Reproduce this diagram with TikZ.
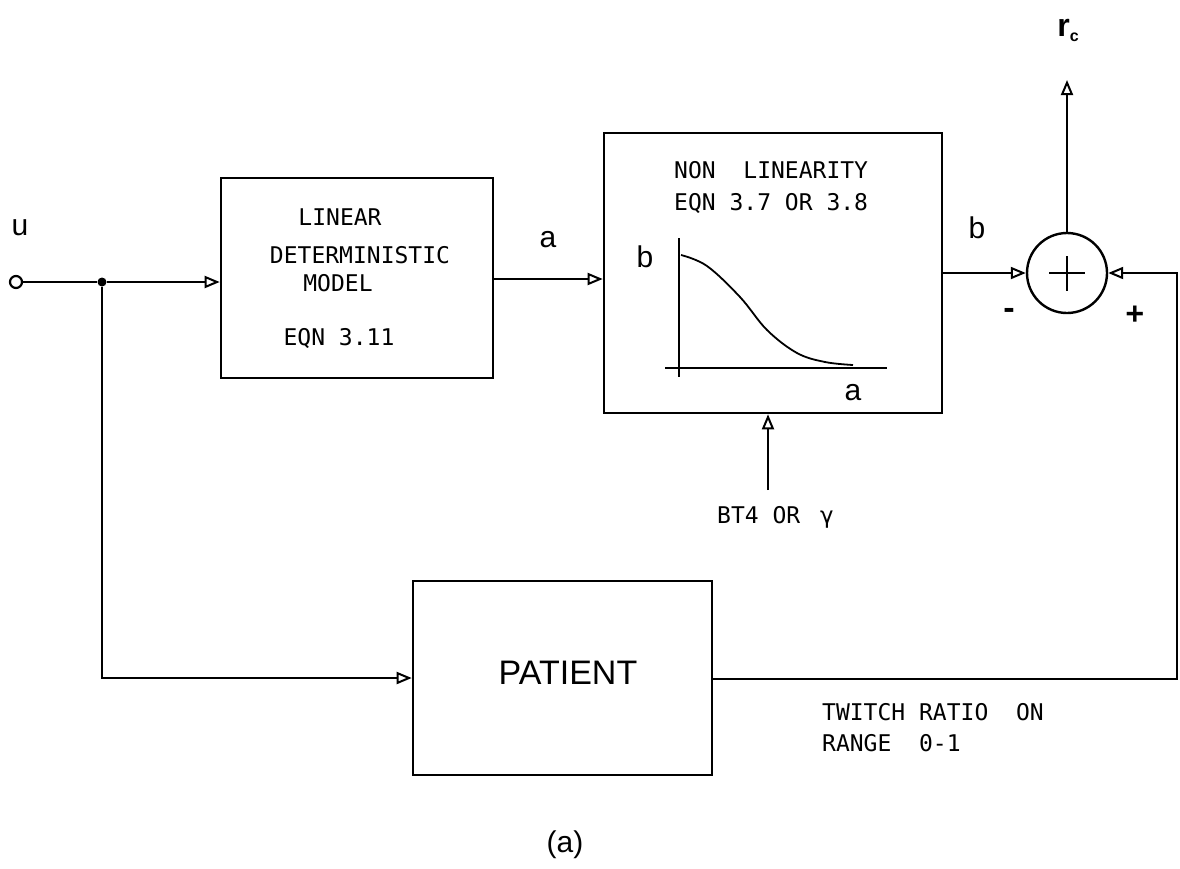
\documentclass[tikz,border=0pt]{standalone}
\usepackage{fontspec}
\usetikzlibrary{arrows.meta}
\newfontfamily\plotfont{DejaVu Sans Mono}
\newfontfamily\lblfont{Liberation Sans}
\tikzset{
  wire/.style={line width=2.6pt},
  blk/.style={draw, line width=2.6pt, inner sep=0pt},
  arr/.style={-{Triangle[open, length=15pt, width=12pt, line width=2pt]}},
  plot text/.style={inner sep=0pt, font=\plotfont\fontsize{23}{27}\selectfont},
  sig/.style={inner sep=0pt, font=\lblfont\fontsize{30}{34}\selectfont},
}
\begin{document}
\begin{tikzpicture}[x=1pt, y=-1pt]
\useasboundingbox (0,0) rectangle (1180,868);

% blocks
\node[blk, minimum width=272pt, minimum height=200pt] (ldm) at (357,278) {};
\node[blk, minimum width=338pt, minimum height=280pt] (nl) at (773,273) {};
\node[blk, minimum width=299pt, minimum height=194pt] (pat) at (562.5,678) {};
\node[draw, circle, line width=2.4pt, minimum size=80pt, inner sep=0pt] (sum) at (1067,273) {};
\draw[wire] (1067,256) -- (1067,291) (1049,273) -- (1085,273);

% block texts
\node[plot text] (t1) at (340,217) {LINEAR};
\node[plot text] (t2) at (360,255) {DETERMINISTIC};
\node[plot text] (t3) at (338,283) {MODEL};
\node[plot text] (t4) at (339,338) {EQN 3.11};
\node[plot text, anchor=west] (t5) at (674,170) {NON\ \ LINEARITY};
\node[plot text, anchor=west] (t6) at (674,203) {EQN 3.7 OR 3.8};
\node[inner sep=0pt, font=\lblfont\fontsize{34}{38}\selectfont] (t7) at (568,673) {PATIENT};

% characteristic inside the non-linearity block
\draw[wire] (679,238) -- (679,377);
\draw[wire] (665,368) -- (887,368);
\draw[line width=1.8pt] plot[smooth, tension=0.6] coordinates
  {(681,255) (707,266) (740,297) (767,330) (797,353) (825,362) (853,365)};
\node[sig] (gb) at (645,257) {b};
\node[sig] (ga) at (853,393) {a};

% terminals and branch points
\node[draw, circle, line width=2.2pt, minimum size=12pt, inner sep=0pt] (uin) at (16,282) {};
\node[fill, circle, minimum size=9pt, inner sep=0pt] (jn) at (102,282) {};
\coordinate (aout) at (494,279);
\coordinate (rcout) at (1067,80);
\coordinate (bt4) at (768,490);
\coordinate (fbr) at (1177,679);

% connectors
\draw[wire] (uin) -- (jn);
\draw[wire, arr] (jn) -- (jn -| ldm.west);
\draw[wire, arr] (aout) -- (aout -| nl.west);
\draw[wire, arr] (nl.east |- sum) -- (sum.west);
\draw[wire, arr] (sum.north) -- (rcout);
\draw[wire, arr] (bt4) -- (bt4 |- nl.south);
\draw[wire, arr] (jn) -- (jn |- pat.west) -- (pat.west);
\draw[wire, arr] (pat.east |- fbr) -- (fbr) -- (fbr |- sum) -- (sum.east);

% signal labels
\node[sig] (lu) at (20,228) {u};
\node[sig] (la) at (548,240) {a};
\node[sig] (lb) at (977,228) {b};
\node[inner sep=0pt, font=\lblfont\fontsize{32}{36}\selectfont] (lrc) at (1068,30) {\textbf{r}\raisebox{-5pt}{\fontsize{16}{18}\selectfont\textbf{c}}};
\node[plot text, font=\plotfont\bfseries\fontsize{28}{30}\selectfont] (lm) at (1009,313) {-};
\node[plot text, font=\plotfont\bfseries\fontsize{30}{32}\selectfont] (lp) at (1135,315) {+};
\node[plot text, anchor=west] (lbt) at (717,517) {BT4 OR\hspace{6pt} γ};
\node[plot text, anchor=west] (ltw1) at (822,712) {TWITCH RATIO\ \ ON};
\node[plot text, anchor=west] (ltw2) at (822,743) {RANGE\ \ 0-1};
\node[sig] (cap) at (565,845) {(a)};
\end{tikzpicture}
\end{document}
